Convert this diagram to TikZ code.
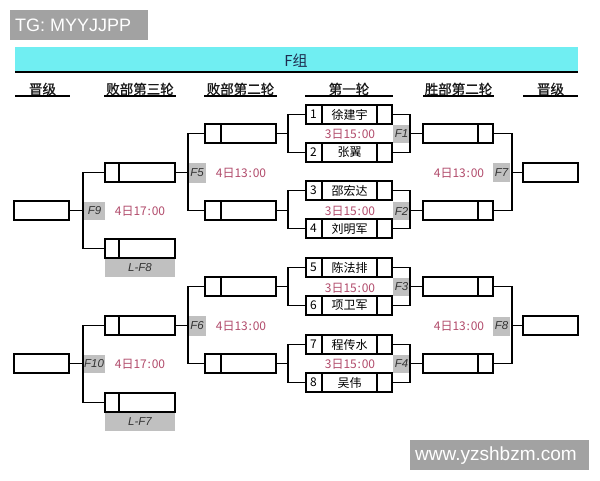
\documentclass[tikz,border=0pt]{standalone}
\usepackage{fontspec}
\setmainfont{Noto Sans CJK SC}
\newfontfamily\hdfont[FakeBold=1]{Noto Sans CJK SC}
\newfontfamily\latinf{Liberation Sans}
\usetikzlibrary{calc}
\definecolor{barcyan}{RGB}{112,238,242}
\definecolor{timered}{RGB}{178,76,108}
\definecolor{labgray}{RGB}{192,192,192}
\definecolor{wmgray}{RGB}{162,162,162}
\definecolor{titleblue}{RGB}{30,45,80}
\newcommand\mkfr[4]{%
  \node[box, minimum width=86pt] (#1) at (349,#2) {};
  \draw[divl] ($(#1.north west)+(17,0)$) -- ($(#1.south west)+(17,0)$);
  \draw[divl] ($(#1.north east)+(-16,0)$) -- ($(#1.south east)+(-16,0)$);
  \node[nm] (#1num) at ($(#1.west)+(8.5,0)$) {#3};
  \node[nm] (#1name) at ($(#1.center)+(0.5,0)$) {#4};
}
\newcommand\tmtxt[2]{#1日#2\kern0.8pt:\kern0.8pt00}
\begin{document}
\begin{tikzpicture}[x=1pt,y=-1pt,
  box/.style={draw, line width=2pt, inner sep=0pt, minimum height=19pt, fill=white},
  divl/.style={line width=2pt},
  conn/.style={line width=1.3pt},
  glab/.style={fill=labgray, inner sep=0pt, text=black!80, font=\latinf\itshape\fontsize{11.5}{11.5}\selectfont},
  tm/.style={text=timered, inner sep=0pt, font=\fontsize{12}{12}\selectfont},
  hd/.style={inner sep=0pt, text=black!90, font=\hdfont\fontsize{13.5}{13.5}\selectfont},
  uline/.style={line width=2pt},
  nm/.style={inner sep=0pt, font=\fontsize{12}{12}\selectfont}]
\useasboundingbox (0,0) rectangle (600,480);
\fill[white] (0,0) rectangle (600,480);
% watermarks
\fill[wmgray] (10,10) rectangle (148,40);
\node[anchor=west, inner sep=0pt, text=white, font=\latinf\fontsize{18}{18}\selectfont] (wm1) at (15,25.5) {TG: MYYJJPP};
\fill[wmgray] (410,440) rectangle (589,470);
\node[inner sep=0pt, text=white, font=\latinf\fontsize{19}{19}\selectfont] (wm2) at (496,455.5) {www.yzshbzm.com};
% title bar
\fill[barcyan] (15,47) rectangle (578,72);
\draw[line width=2pt] (15,72) -- (578,72);
\node[inner sep=0pt, text=titleblue, font=\fontsize{15}{15}\selectfont] (title) at (296,60.5) {F组};
% column headers
\node[hd] (h1) at (42.5,89) {晋级};
\node[hd] (h2) at (140,89) {败部第三轮};
\node[hd] (h3) at (240.5,89) {败部第二轮};
\node[hd] (h4) at (349,89) {第一轮};
\node[hd] (h5) at (458.5,89) {胜部第二轮};
\node[hd] (h6) at (550.5,89) {晋级};
\draw[uline] (15,96) -- (70,96);
\draw[uline] (104,96) -- (176,96);
\draw[uline] (204,96) -- (277,96);
\draw[uline] (305,96) -- (393,96);
\draw[uline] (423,96) -- (494,96);
\draw[uline] (523,96) -- (578,96);
% gray labels
\node[glab, minimum width=17pt, minimum height=18pt] (F1) at (401.5,134) {F1};
\node[glab, minimum width=17pt, minimum height=18pt] (F2) at (401.5,211) {F2};
\node[glab, minimum width=17pt, minimum height=18pt] (F3) at (401.5,287) {F3};
\node[glab, minimum width=17pt, minimum height=18pt] (F4) at (401.5,364) {F4};
\node[glab, minimum width=18pt, minimum height=20pt] (F5) at (197,173) {F5};
\node[glab, minimum width=18pt, minimum height=20pt] (F6) at (197,326) {F6};
\node[glab, minimum width=17pt, minimum height=19pt] (F7) at (501.5,172.5) {F7};
\node[glab, minimum width=17pt, minimum height=19pt] (F8) at (501.5,326) {F8};
\node[glab, minimum width=21pt, minimum height=18pt] (F9) at (94.5,211) {F9};
\node[glab, minimum width=22pt, minimum height=18pt] (F10) at (94,364) {F10};
\node[glab, minimum width=70pt, minimum height=19pt] (LF8) at (140,267.5) {L-F8};
\node[glab, minimum width=70pt, minimum height=19pt] (LF7) at (140,421.5) {L-F7};
% junctions
\coordinate (k1) at (410,133.5);
\coordinate (k2) at (410,210.5);
\coordinate (k3) at (410,286.5);
\coordinate (k4) at (410,363.5);
\coordinate (k7) at (512,172.5);
\coordinate (k8) at (512,325.5);
\coordinate (j1) at (288,133.5);
\coordinate (j2) at (288,210.5);
\coordinate (j3) at (288,286.5);
\coordinate (j4) at (288,363.5);
\coordinate (k5) at (188,172.5);
\coordinate (k6) at (188,325.5);
\coordinate (k9) at (83,210.5);
\coordinate (k10) at (83,363.5);
% first round
\mkfr{b1}{114.5}{1}{徐建宇}
\mkfr{b2}{152.5}{2}{张翼}
\mkfr{b3}{190.5}{3}{邵宏达}
\mkfr{b4}{228.5}{4}{刘明军}
\mkfr{b5}{267.5}{5}{陈法排}
\mkfr{b6}{305.5}{6}{项卫军}
\mkfr{b7}{344.5}{7}{程传水}
\mkfr{b8}{382.5}{8}{吴伟}
% winners round 2
\foreach \n/\y in {w1/133.5,w2/210.5,w3/286.5,w4/363.5}{
  \node[box, minimum width=70pt] (\n) at (458,\y) {};
  \draw[divl] ($(\n.north east)+(-16,0)$) -- ($(\n.south east)+(-16,0)$);
}
% right finals
\node[box, minimum width=55pt] (rf1) at (550.5,172.5) {};
\node[box, minimum width=55pt] (rf2) at (550.5,325.5) {};
% losers round 2
\foreach \n/\y in {l1/133.5,l2/210.5,l3/286.5,l4/363.5}{
  \node[box, minimum width=71pt] (\n) at (240.5,\y) {};
  \draw[divl] ($(\n.north west)+(17,0)$) -- ($(\n.south west)+(17,0)$);
}
% losers round 3
\foreach \n/\y in {m1/172.5,m2/248.5,m3/325.5,m4/402.5}{
  \node[box, minimum width=70pt] (\n) at (140,\y) {};
  \draw[divl] ($(\n.north west)+(15,0)$) -- ($(\n.south west)+(15,0)$);
}
% left finals
\node[box, minimum width=55pt] (lf1) at (41.5,210.5) {};
\node[box, minimum width=55pt] (lf2) at (41.5,363.5) {};
% connectors winners side
\draw[conn] (b1.east) -| (k1) |- (b2.east);
\draw[conn] (k1) -- (w1.west);
\draw[conn] (b3.east) -| (k2) |- (b4.east);
\draw[conn] (k2) -- (w2.west);
\draw[conn] (b5.east) -| (k3) |- (b6.east);
\draw[conn] (k3) -- (w3.west);
\draw[conn] (b7.east) -| (k4) |- (b8.east);
\draw[conn] (k4) -- (w4.west);
\draw[conn] (w1.east) -| (k7) |- (w2.east);
\draw[conn] (k7) -- (rf1.west);
\draw[conn] (w3.east) -| (k8) |- (w4.east);
\draw[conn] (k8) -- (rf2.west);
% connectors losers side
\draw[conn] (b1.west) -| (j1) |- (b2.west);
\draw[conn] (j1) -- (l1.east);
\draw[conn] (b3.west) -| (j2) |- (b4.west);
\draw[conn] (j2) -- (l2.east);
\draw[conn] (b5.west) -| (j3) |- (b6.west);
\draw[conn] (j3) -- (l3.east);
\draw[conn] (b7.west) -| (j4) |- (b8.west);
\draw[conn] (j4) -- (l4.east);
\draw[conn] (l1.west) -| (k5) |- (l2.west);
\draw[conn] (k5) -- (m1.east);
\draw[conn] (l3.west) -| (k6) |- (l4.west);
\draw[conn] (k6) -- (m3.east);
\draw[conn] (m1.west) -| (k9) |- (m2.west);
\draw[conn] (k9) -- (lf1.east);
\draw[conn] (m3.west) -| (k10) |- (m4.west);
\draw[conn] (k10) -- (lf2.east);
% times
\node[tm] (t1) at (350,134) {\tmtxt{3}{15}};
\node[tm] (t2) at (350,211) {\tmtxt{3}{15}};
\node[tm] (t3) at (350,288) {\tmtxt{3}{15}};
\node[tm] (t4) at (350,364.5) {\tmtxt{3}{15}};
\node[tm] (t5) at (241,173) {\tmtxt{4}{13}};
\node[tm] (t6) at (241,326) {\tmtxt{4}{13}};
\node[tm] (t7) at (459,173) {\tmtxt{4}{13}};
\node[tm] (t8) at (459,326) {\tmtxt{4}{13}};
\node[tm] (t9) at (140,211) {\tmtxt{4}{17}};
\node[tm] (t10) at (140,364) {\tmtxt{4}{17}};
\end{tikzpicture}
\end{document}
